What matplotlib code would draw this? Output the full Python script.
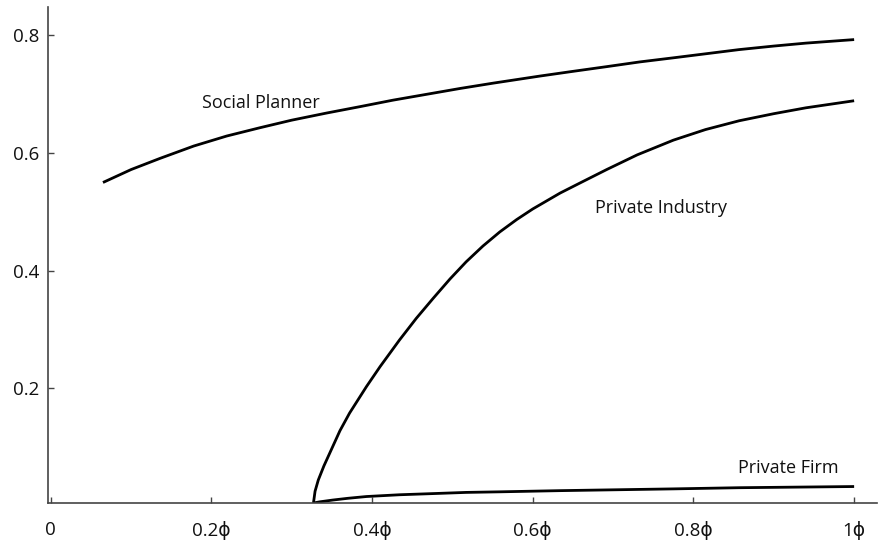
import matplotlib
matplotlib.use("Agg")
import matplotlib.pyplot as plt

plt.rcParams['font.family'] = ['Open Sans', 'DejaVu Sans']

# Curves as functions of phi
planner_x = [0.065, 0.100, 0.136, 0.178, 0.219, 0.260, 0.300, 0.343, 0.385, 0.426, 0.468,
             0.510, 0.551, 0.609, 0.650, 0.692, 0.733, 0.775, 0.816, 0.857, 0.900, 0.940, 1.0]
planner_y = [0.550, 0.572, 0.591, 0.612, 0.629, 0.643, 0.656, 0.668, 0.679, 0.690, 0.700,
             0.710, 0.719, 0.731, 0.739, 0.747, 0.755, 0.762, 0.769, 0.776, 0.782, 0.787, 0.793]

industry_x = [0.327, 0.329, 0.333, 0.340, 0.351, 0.360, 0.372, 0.393, 0.410, 0.434, 0.455,
              0.476, 0.497, 0.517, 0.538, 0.559, 0.580, 0.600, 0.634, 0.660, 0.692, 0.730,
              0.775, 0.815, 0.857, 0.900, 0.940, 0.970, 1.0]
industry_y = [0.005, 0.025, 0.044, 0.068, 0.101, 0.128, 0.158, 0.203, 0.237, 0.282, 0.319,
              0.353, 0.386, 0.415, 0.442, 0.466, 0.487, 0.505, 0.532, 0.550, 0.572, 0.597,
              0.622, 0.640, 0.655, 0.667, 0.677, 0.683, 0.689]

firm_x = [0.327, 0.335, 0.351, 0.370, 0.393, 0.434, 0.476, 0.517, 0.559, 0.634, 0.775, 0.857, 1.0]
firm_y = [0.005, 0.007, 0.010, 0.013, 0.016, 0.019, 0.021, 0.023, 0.024, 0.026, 0.029, 0.031, 0.033]

x_ticks = [0, 0.2, 0.4, 0.6, 0.8, 1.0]
x_tick_labels = ['0', '0.2\u03d5', '0.4\u03d5', '0.6\u03d5', '0.8\u03d5', '1\u03d5']
y_ticks = [0.2, 0.4, 0.6, 0.8]
y_tick_labels = ['0.2', '0.4', '0.6', '0.8']

fig = plt.figure(figsize=(8.82, 5.49), dpi=100)
ax = fig.add_axes([0.0539, 0.0838, 0.940, 0.903])

for xs, ys in [(planner_x, planner_y), (industry_x, industry_y), (firm_x, firm_y)]:
    ax.plot(xs, ys, color='black', lw=2.0, solid_capstyle='butt', solid_joinstyle='round')

ax.set_xlim(-0.004, 1.028)
ax.set_ylim(0.005, 0.848)

ax.set_xticks(x_ticks)
ax.set_xticklabels(x_tick_labels)
ax.set_yticks(y_ticks)
ax.set_yticklabels(y_tick_labels)

for side in ['top', 'right']:
    ax.spines[side].set_visible(False)
for side in ['left', 'bottom']:
    ax.spines[side].set_color('#444444')
    ax.spines[side].set_linewidth(1.2)

ax.tick_params(axis='both', direction='in', length=4, width=1.0, color='#444444',
               labelsize=13.5, labelcolor='#111111')
ax.tick_params(axis='x', pad=13)
ax.tick_params(axis='y', pad=6)

label_style = dict(fontsize=13, color='#111111', ha='center', va='center')
ax.text(0.262, 0.686, 'Social Planner', **label_style)
ax.text(0.759, 0.506, 'Private Industry', **label_style)
ax.text(0.918, 0.064, 'Private Firm', **label_style)

fig.savefig('out.png', dpi=100, facecolor='white')
